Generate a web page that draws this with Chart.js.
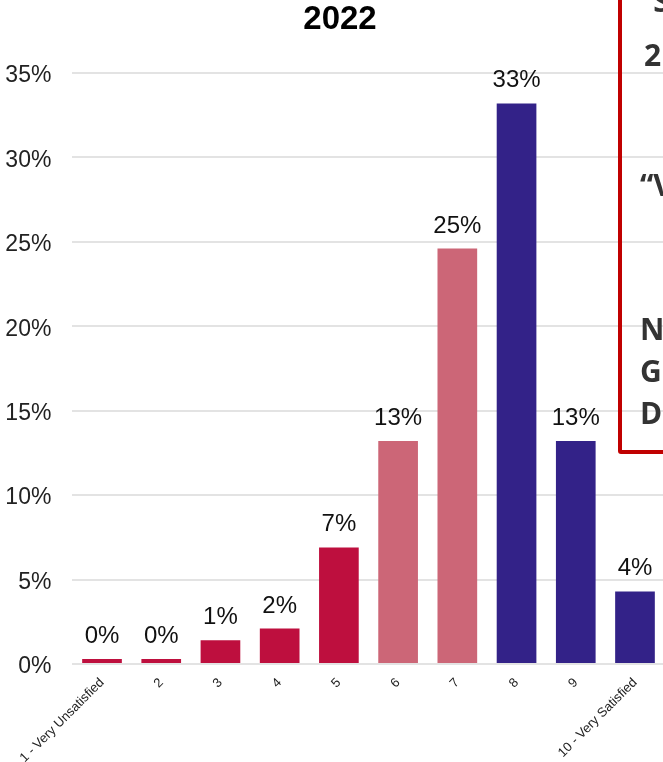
<!DOCTYPE html>
<html>
<head>
<meta charset="utf-8">
<script src="https://cdn.jsdelivr.net/npm/chart.js@4.4.0/dist/chart.umd.min.js"></script>
<style>
  html, body { margin: 0; padding: 0; background: #fff; overflow: hidden; width: 663px; height: 762px; }
  #wrap { position: relative; width: 680px; height: 762px; }
  #box { position: absolute; left: 618px; top: -20px; width: 120px; height: 466px; border: 4px solid #c00000; border-radius: 3px; overflow: hidden; pointer-events: none; }
  #box span { position: absolute; font-family: "Open Sans", "Noto Sans", sans-serif; font-weight: 700; font-size: 30px; color: #333; white-space: nowrap; line-height: 1; }
</style>
</head>
<body>
<div id="wrap">
  <canvas id="c" width="680" height="762"></canvas>
  <div id="box">
    <span style="left:18px; top:2px;">“S</span>
    <span style="left:22px; top:56px;">2</span>
    <span style="left:18px; top:186px;">“V</span>
    <span style="left:18px; top:330px;">N</span>
    <span style="left:18px; top:372px;">G</span>
    <span style="left:18px; top:414px;">D</span>
  </div>
</div>
<script>
const categories = ["1 - Very Unsatisfied", "2", "3", "4", "5", "6", "7", "8", "9", "10 - Very Satisfied"];
const values = [0.3, 0.3, 1.4, 2.1, 6.9, 13.2, 24.6, 33.2, 13.2, 4.3];
const barColors = ["#be0f3e", "#be0f3e", "#be0f3e", "#be0f3e", "#be0f3e", "#cc6677", "#cc6677", "#332288", "#332288", "#332288"];
const yTicks = [0, 5, 10, 15, 20, 25, 30, 35];
const titleText = "2022";

const valueLabels = {
  id: 'valueLabels',
  afterDatasetsDraw(chart) {
    const ctx = chart.ctx;
    const meta = chart.getDatasetMeta(0);
    ctx.save();
    ctx.font = '24px "Liberation Sans", Arial, sans-serif';
    ctx.fillStyle = '#111';
    ctx.textAlign = 'center';
    ctx.textBaseline = 'alphabetic';
    meta.data.forEach((bar, i) => {
      ctx.fillText(Math.round(values[i]) + '%', bar.x, bar.y - 16);
    });
    // chart title, centred on the full chart box
    ctx.font = 'bold 33px "Liberation Sans", Arial, sans-serif';
    ctx.fillStyle = '#000';
    ctx.textBaseline = 'middle';
    ctx.fillText(titleText, chart.width / 2, 20);
    ctx.restore();
  }
};

new Chart(document.getElementById('c'), {
  type: 'bar',
  data: {
    labels: categories,
    datasets: [{
      data: values,
      backgroundColor: barColors,
      borderWidth: 0,
      categoryPercentage: 1,
      barPercentage: 0.67
    }]
  },
  options: {
    responsive: false,
    animation: false,
    devicePixelRatio: 1,
    layout: { padding: { left: 0, right: 15.4, top: 73, bottom: 0 } },
    plugins: {
      legend: { display: false },
      tooltip: { enabled: false },
      title: { display: false }
    },
    scales: {
      x: {
        grid: { display: false, drawTicks: false },
        border: { display: false },
        ticks: {
          color: '#222',
          font: { family: '"Liberation Sans", Arial, sans-serif', size: 13 },
          minRotation: 45,
          maxRotation: 45,
          padding: 11,
          autoSkip: false
        },
        afterFit(scale) { scale.height = 98; }
      },
      y: {
        min: 0,
        max: 35,
        afterBuildTicks(scale) { scale.ticks = yTicks.map(v => ({ value: v })); },
        grid: { color: '#e3e3e3', lineWidth: 2, drawTicks: false },
        border: { display: false },
        ticks: {
          color: '#222',
          font: { family: '"Liberation Sans", Arial, sans-serif', size: 23 },
          padding: 21,
          labelOffset: 3,
          callback: v => v + '%'
        },
        afterFit(scale) { scale.width = 72.4; }
      }
    }
  },
  plugins: [valueLabels]
});
</script>
</body>
</html>
